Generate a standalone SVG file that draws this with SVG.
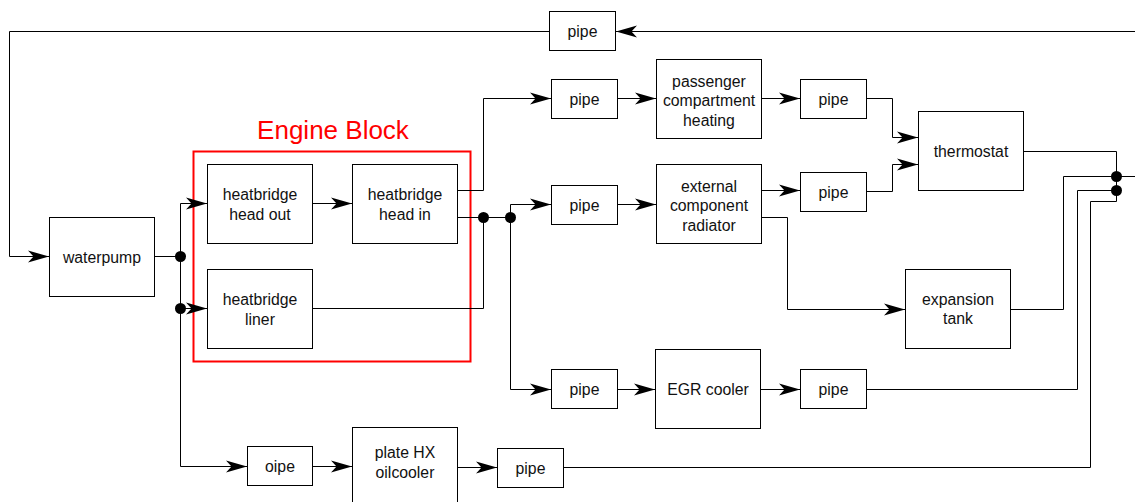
<svg xmlns="http://www.w3.org/2000/svg" width="1135" height="502" viewBox="0 0 1135 502">
  <style>
    .box { fill: #ffffff; stroke: #000000; stroke-width: 1; }
    .lbl { font-family: "Liberation Sans", Arial, sans-serif; font-size: 15.8px; fill: #111111; text-anchor: middle; }
    .wire { fill: none; stroke: #000000; stroke-width: 1; }
    .arr { marker-end: url(#arrow); }
    .dot { fill: #000000; }
    .group { fill: none; stroke: #ff0000; stroke-width: 2; }
    .grouplbl { font-family: "Liberation Sans", Arial, sans-serif; font-size: 26px; fill: #ff0000; text-anchor: middle; }
  </style>
  <defs>
    <marker id="arrow" markerUnits="userSpaceOnUse" viewBox="-22 -7 23 14" refX="0" refY="0" markerWidth="23" markerHeight="14" orient="auto" overflow="visible">
      <path d="M0,0 L-21,-6 L-15.5,0 L-21,6 Z" fill="#000000"/>
    </marker>
  </defs>
  <rect width="1135" height="502" fill="#ffffff"/>

  <!-- engine block grouping -->
  <g id="engine-block">
    <rect class="group" x="193.5" y="151.5" width="277" height="210"/>
    <text class="grouplbl" x="333" y="139">Engine Block</text>
  </g>

  <!-- connectors -->
  <g id="connectors">
    <!-- return loop: expansion tank outlet over the top back to the pump -->
    <path class="wire arr" d="M1011,309.5 H1063.5 V176.5 H1150 V31.5 H616"/>
    <path class="wire arr" d="M549,31.5 H9.5 V256.5 H49"/>
    <!-- pump outlet and split -->
    <path class="wire" d="M154,256.5 H180.5"/>
    <path class="wire arr" d="M180.5,256.5 V203.5 H207"/>
    <path class="wire arr" d="M180.5,256.5 V308.5 H207"/>
    <path class="wire arr" d="M180.5,308.5 V466.5 H247"/>
    <!-- engine block internals -->
    <path class="wire arr" d="M312,203.5 H352"/>
    <path class="wire arr" d="M457,190.5 H483.5 V98.5 H551"/>
    <path class="wire" d="M457,217.5 H510.5"/>
    <path class="wire" d="M312,308.5 H483.5 V217.5"/>
    <path class="wire arr" d="M510.5,217.5 V204.5 H551"/>
    <path class="wire arr" d="M510.5,217.5 V389.5 H551"/>
    <!-- heater branch -->
    <path class="wire arr" d="M617,98.5 H656"/>
    <path class="wire arr" d="M762,98.5 H800"/>
    <path class="wire arr" d="M866,98.5 H892.5 V137.5 H918"/>
    <!-- radiator branch -->
    <path class="wire arr" d="M617,204.5 H656"/>
    <path class="wire arr" d="M762,190.5 H800"/>
    <path class="wire arr" d="M866,191.5 H892.5 V164.5 H918"/>
    <path class="wire arr" d="M762,217.5 H787.5 V309.5 H905"/>
    <!-- EGR branch -->
    <path class="wire arr" d="M617,389.5 H655"/>
    <path class="wire arr" d="M761,389.5 H800"/>
    <path class="wire" d="M866,389.5 H1077.5 V190.5 H1116.5"/>
    <!-- oil cooler branch -->
    <path class="wire arr" d="M312,466.5 H352"/>
    <path class="wire arr" d="M457,467.5 H497"/>
    <path class="wire" d="M563,467.5 H1090.5 V201.5 H1116.5"/>
    <!-- thermostat outlet to collector -->
    <path class="wire" d="M1023,151.5 H1116.5 V201.5"/>
    <!-- junction dots -->
    <circle class="dot" cx="180.5" cy="256.5" r="5.5"/>
    <circle class="dot" cx="180.5" cy="308.5" r="5.5"/>
    <circle class="dot" cx="483.5" cy="217.5" r="5.5"/>
    <circle class="dot" cx="510.5" cy="217.5" r="5.5"/>
    <circle class="dot" cx="1116.5" cy="176.5" r="5.5"/>
    <circle class="dot" cx="1116.5" cy="190.5" r="5.5"/>
  </g>

  <!-- nodes -->
  <g id="pipe-top">
    <rect class="box" x="549.5" y="11.5" width="66" height="39"/>
    <text class="lbl" x="582.5" y="37">pipe</text>
  </g>
  <g id="waterpump">
    <rect class="box" x="49.5" y="217.5" width="105" height="79"/>
    <text class="lbl" x="102" y="263">waterpump</text>
  </g>
  <g id="head-out">
    <rect class="box" x="207.5" y="164.5" width="105" height="79"/>
    <text class="lbl" x="260" y="200">heatbridge</text>
    <text class="lbl" x="260" y="219.5">head out</text>
  </g>
  <g id="head-in">
    <rect class="box" x="352.5" y="164.5" width="105" height="79"/>
    <text class="lbl" x="405" y="200">heatbridge</text>
    <text class="lbl" x="405" y="219.5">head in</text>
  </g>
  <g id="liner">
    <rect class="box" x="207.5" y="269.5" width="105" height="79"/>
    <text class="lbl" x="260" y="305">heatbridge</text>
    <text class="lbl" x="260" y="324.5">liner</text>
  </g>
  <g id="pipe-heater-in">
    <rect class="box" x="551.5" y="79.5" width="66" height="39"/>
    <text class="lbl" x="584.5" y="105">pipe</text>
  </g>
  <g id="passenger-heating">
    <rect class="box" x="656.5" y="59.5" width="105" height="79"/>
    <text class="lbl" x="709" y="86.5">passenger</text>
    <text class="lbl" x="709" y="106">compartment</text>
    <text class="lbl" x="709" y="125.5">heating</text>
  </g>
  <g id="pipe-heater-out">
    <rect class="box" x="800.5" y="79.5" width="66" height="39"/>
    <text class="lbl" x="833.5" y="105">pipe</text>
  </g>
  <g id="thermostat">
    <rect class="box" x="918.5" y="111.5" width="105" height="79"/>
    <text class="lbl" x="971" y="157">thermostat</text>
  </g>
  <g id="pipe-radiator-in">
    <rect class="box" x="551.5" y="185.5" width="66" height="39"/>
    <text class="lbl" x="584.5" y="211">pipe</text>
  </g>
  <g id="radiator">
    <rect class="box" x="656.5" y="164.5" width="105" height="79"/>
    <text class="lbl" x="709" y="191.5">external</text>
    <text class="lbl" x="709" y="211">component</text>
    <text class="lbl" x="709" y="230.5">radiator</text>
  </g>
  <g id="pipe-radiator-out">
    <rect class="box" x="800.5" y="172.5" width="66" height="39"/>
    <text class="lbl" x="833.5" y="198">pipe</text>
  </g>
  <g id="expansion-tank">
    <rect class="box" x="905.5" y="269.5" width="105" height="79"/>
    <text class="lbl" x="958" y="304.5">expansion</text>
    <text class="lbl" x="958" y="324">tank</text>
  </g>
  <g id="pipe-egr-in">
    <rect class="box" x="551.5" y="369.5" width="66" height="39"/>
    <text class="lbl" x="584.5" y="395">pipe</text>
  </g>
  <g id="egr-cooler">
    <rect class="box" x="655.5" y="349.5" width="105" height="79"/>
    <text class="lbl" x="708" y="395">EGR cooler</text>
  </g>
  <g id="pipe-egr-out">
    <rect class="box" x="800.5" y="369.5" width="66" height="39"/>
    <text class="lbl" x="833.5" y="395">pipe</text>
  </g>
  <g id="oipe">
    <rect class="box" x="247.5" y="446.5" width="65" height="39"/>
    <text class="lbl" x="280" y="472">oipe</text>
  </g>
  <g id="plate-hx-oilcooler">
    <rect class="box" x="352.5" y="427.5" width="105" height="79"/>
    <text class="lbl" x="405" y="458">plate HX</text>
    <text class="lbl" x="405" y="477.5">oilcooler</text>
  </g>
  <g id="pipe-oil-out">
    <rect class="box" x="497.5" y="448.5" width="66" height="39"/>
    <text class="lbl" x="530.5" y="474">pipe</text>
  </g>
</svg>
